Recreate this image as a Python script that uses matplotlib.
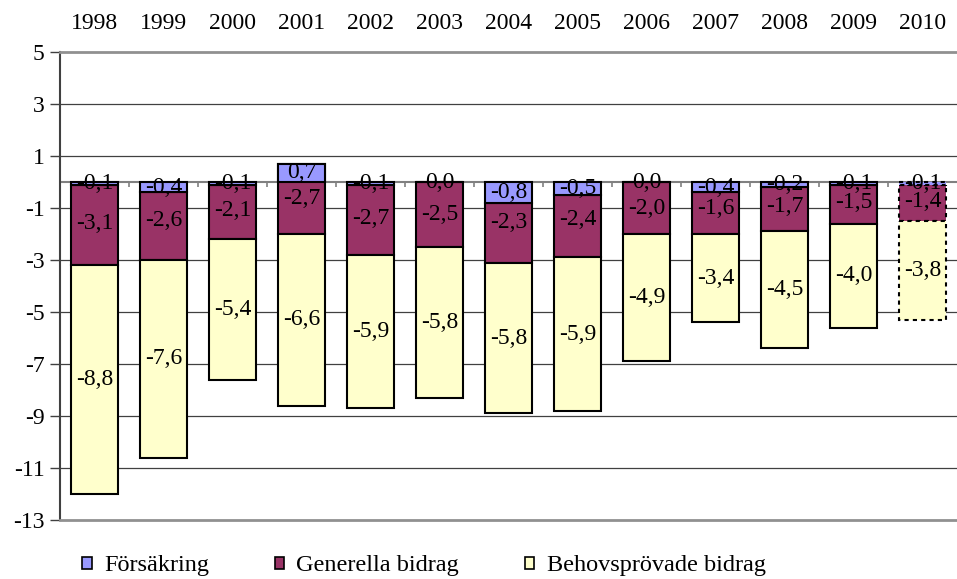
import matplotlib
matplotlib.use("Agg")
import matplotlib.pyplot as plt
import numpy as np
from matplotlib.patches import Patch

plt.rcParams['font.family'] = ['Liberation Serif', 'DejaVu Serif']

years = ['1998', '1999', '2000', '2001', '2002', '2003', '2004',
         '2005', '2006', '2007', '2008', '2009', '2010']
forsakring = [-0.1, -0.4, -0.1, 0.7, -0.1, 0.0, -0.8, -0.5, 0.0, -0.4, -0.2, -0.1, -0.1]
generella = [-3.1, -2.6, -2.1, -2.7, -2.7, -2.5, -2.3, -2.4, -2.0, -1.6, -1.7, -1.5, -1.4]
behov = [-8.8, -7.6, -5.4, -6.6, -5.9, -5.8, -5.8, -5.9, -4.9, -3.4, -4.5, -4.0, -3.8]

series_names = ['Försäkring', 'Generella bidrag', 'Behovsprövade bidrag']
colors = ['#9999FF', '#993366', '#FFFFCC']
fs = 17

def fmt(v):
    return f"{v:.1f}".replace('.', ',')

fig = plt.figure(figsize=(9.57, 5.79), dpi=100)
ax = fig.add_axes([60 / 957, 1 - 520 / 579, 1 - 60 / 957, (520 - 52) / 579])

x = np.arange(len(years))
w = 0.68
f = np.array(forsakring)
g = np.array(generella)
b = np.array(behov)

# cumulative stacking, like the old excel chart
top_g = f
top_b = f + g

# gridlines
for yv in range(-11, 5, 2):
    ax.axhline(yv, color='#404040', lw=0.9, zorder=0)

bars_g = ax.bar(x, g, w, bottom=top_g, color=colors[1], edgecolor='black', lw=1.5, zorder=2)
bars_b = ax.bar(x, b, w, bottom=top_b, color=colors[2], edgecolor='black', lw=1.5, zorder=2)
bars_f = ax.bar(x, f, w, bottom=0, color=colors[0], edgecolor='black', lw=1.5, zorder=3)
for bars in (bars_g, bars_b, bars_f):
    bars[-1].set_linestyle((0, (2, 2)))

ax.axhline(0, color='#808080', lw=1.5, zorder=1)
ax.vlines(x[:-1] + 0.5, -0.2, 0, color='#808080', lw=1.2, zorder=1)

# data labels
for i in range(len(years)):
    ax.text(x[i], f[i] / 2, fmt(f[i]), ha='center', va='center', fontsize=fs, zorder=5)
    gc = (max(top_g[i], 0) + top_g[i] + g[i]) / 2
    ax.text(x[i], gc, fmt(g[i]), ha='center', va='center', fontsize=fs, zorder=5)
    ax.text(x[i], top_b[i] + b[i] / 2, fmt(b[i]), ha='center', va='center', fontsize=fs, zorder=5)

ax.set_xlim(-0.5, len(years) - 0.5)
ax.set_ylim(-13, 5)
ax.set_yticks(range(-13, 6, 2))
ax.set_yticklabels([str(v) for v in range(-13, 6, 2)], fontsize=fs)
ax.tick_params(axis='y', length=7, width=1, color='#404040', pad=4)

ax.xaxis.tick_top()
ax.set_xticks(x)
ax.set_xticklabels(years, fontsize=fs)
ax.tick_params(axis='x', length=0, pad=13)

ax.spines['right'].set_visible(False)
ax.spines['top'].set_color('#909090')
ax.spines['top'].set_linewidth(2)
ax.spines['bottom'].set_color('#909090')
ax.spines['bottom'].set_linewidth(2)
ax.spines['left'].set_color('#404040')
ax.spines['left'].set_linewidth(1.5)

handles = [Patch(facecolor=c, edgecolor='black', lw=1.2) for c in colors]
fig.legend(handles, series_names, loc='center left', bbox_to_anchor=(82 / 957, 1 - 566 / 579),
           ncol=3, frameon=False, fontsize=17.5, handlelength=0.4, handleheight=0.4,
           handletextpad=0.5, columnspacing=2.7, borderpad=0, borderaxespad=0)

fig.savefig('out.png', dpi=100)
